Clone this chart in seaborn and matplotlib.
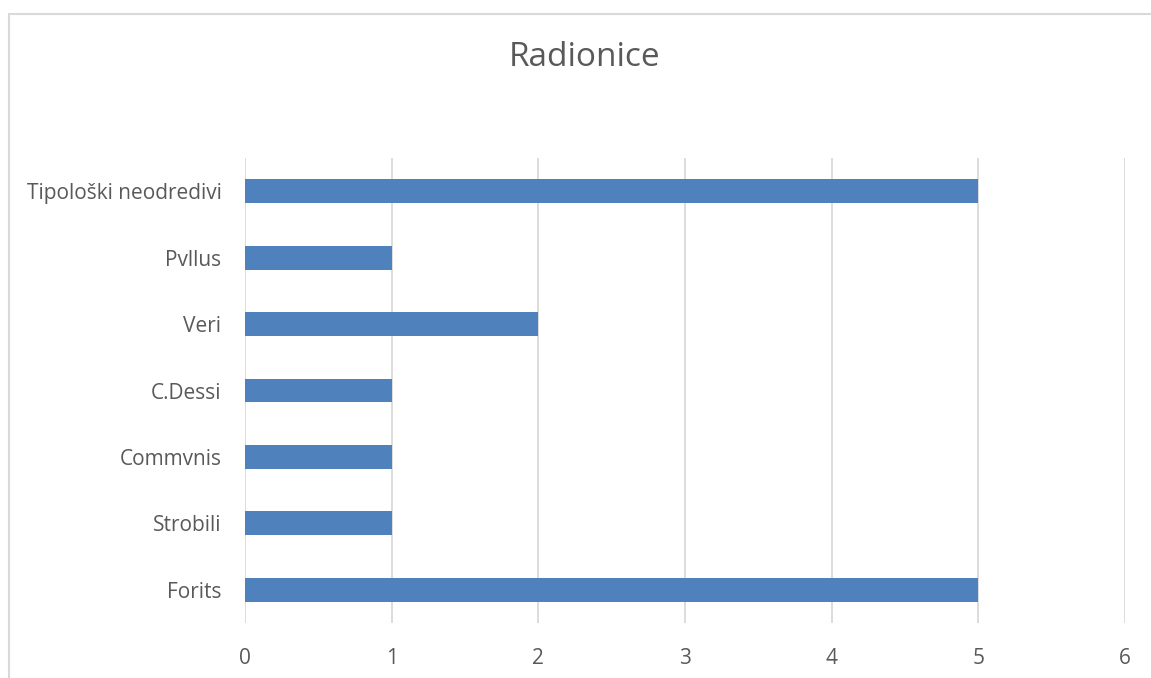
import matplotlib
matplotlib.use("Agg")
import matplotlib.pyplot as plt
from matplotlib.patches import Rectangle
import seaborn as sns
import pandas as pd

categories = ["Tipološki neodredivi", "Pvllus", "Veri", "C.Dessi", "Commvnis", "Strobili", "Forits"]
values = [5, 1, 2, 1, 1, 1, 5]
x_ticks = [0, 1, 2, 3, 4, 5, 6]

W, H = 1151, 678
text_color = "#595959"
grid_color = "#d9d9d9"

sns.set_style("white")
plt.rcParams["font.family"] = ["Open Sans", "DejaVu Sans"]

df = pd.DataFrame({"category": categories, "value": values})

fig = plt.figure(figsize=(W / 100, H / 100), dpi=100)
ax = fig.add_axes([245 / W, 1 - 623 / H, (1125 - 245) / W, (623 - 158) / H])

sns.barplot(data=df, x="value", y="category", order=categories, orient="h",
            color="#4f81bd", saturation=1, width=0.36, linewidth=0, ax=ax, zorder=3)

ax.set_xlim(0, 6)
ax.set_ylim(6.5, -0.5)
ax.set_xticks(x_ticks)
ax.set_xticklabels([str(t) for t in x_ticks])
ax.grid(axis="x", color=grid_color, linewidth=1.3, zorder=0)
ax.grid(axis="y", visible=False)
for s in ax.spines.values():
    s.set_visible(False)
ax.tick_params(axis="x", length=0, pad=18, labelsize=15, labelcolor=text_color)
ax.tick_params(axis="y", length=0, pad=17, labelsize=15, labelcolor=text_color)
ax.set_xlabel("")
ax.set_ylabel("")

fig.text(585 / W, 1 - 58 / H, "Radionice", ha="center", va="center",
         fontsize=24, color=text_color)

fig.add_artist(Rectangle((8.5 / W, -0.2), 1.2, 1.2 - 14 / H,
                         transform=fig.transFigure, fill=False,
                         edgecolor=grid_color, linewidth=1.5))

fig.savefig("out.png", dpi=100, facecolor="white")
